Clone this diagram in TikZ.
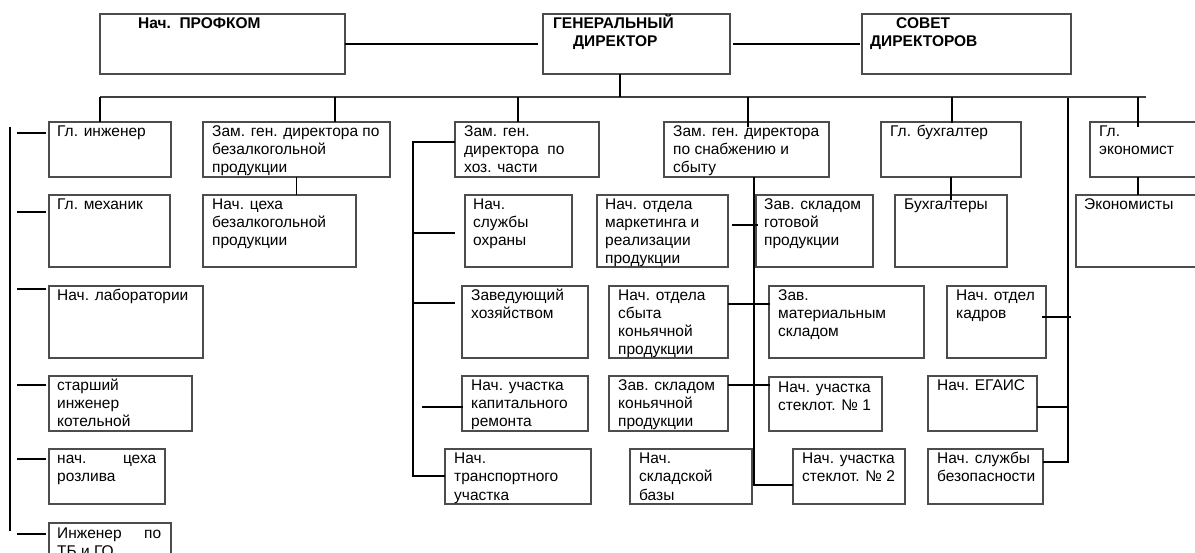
\documentclass[tikz,border=0pt]{standalone}
\usepackage{fontspec}
\setmainfont{Liberation Sans}
\usetikzlibrary{calc}
\newcommand\obox[7]{%
  \node[obx,minimum width=#4pt,minimum height=#5pt] (#1) at (#2,#3) {};
  \node[otx] (#1-t) at ([xshift=#6pt,yshift=-15pt]#1.north west) {\parbox[t]{260pt}{\raggedright #7}};}
\begin{document}
\begin{tikzpicture}[x=1pt,y=-1pt,
  obx/.style={draw=black!70,line width=1.1pt,anchor=north west,inner sep=0pt,outer sep=0pt},
  otx/.style={anchor=base west,inner sep=0pt,font=\fontsize{15.5}{18}\selectfont},
  conn/.style={line width=1.6pt,black},
  bus/.style={line width=1.4pt,black!75}]
\useasboundingbox (0,0) rectangle (1195,553);
\clip (0,0) rectangle (1195,553);
% top row
\obox{prof}{100}{14}{245}{60}{38}{\textbf{Нач.\ \ ПРОФКОМ}}
\obox{gd}{543}{14}{187}{60}{10}{\textbf{ГЕНЕРАЛЬНЫЙ}\\\hspace*{20pt}\textbf{ДИРЕКТОР}}
\obox{sd}{862}{14}{209}{60}{8}{\hspace*{26pt}\textbf{СОВЕТ}\\\textbf{ДИРЕКТОРОВ}}
% row 1
\obox{gi}{49}{122}{122}{55}{8}{Гл. инженер}
\obox{zbez}{203}{122}{187}{55}{9}{Зам. ген. директора по\\безалкогольной\\продукции}
\obox{zhoz}{455}{122}{144}{55}{9}{Зам. ген.\\директора\ \ по\\хоз. части}
\obox{zsn}{664}{122}{165}{55}{9}{Зам. ген. директора\\по снабжению и\\сбыту}
\obox{gb}{881}{122}{140}{55}{9}{Гл. бухгалтер}
\obox{ge}{1090}{122}{140}{55}{9}{Гл.\\экономист}
% row 2
\obox{gm}{49}{195}{121}{72}{8}{Гл. механик}
\obox{nceh}{203}{195}{153}{72}{9}{Нач. цеха\\безалкогольной\\продукции}
\obox{ohr}{465}{195}{107}{72}{8}{Нач.\\службы\\охраны}
\obox{mkt}{597}{195}{131}{72}{8}{Нач. отдела\\маркетинга и\\реализации\\продукции}
\obox{gotov}{756}{195}{117}{72}{8}{Зав. складом\\готовой\\продукции}
\obox{buh}{895}{195}{112}{72}{9}{Бухгалтеры}
\obox{econ}{1076}{195}{140}{72}{8}{Экономисты}
% row 3
\obox{lab}{49}{286}{154}{72}{8}{Нач. лаборатории}
\obox{hoz}{462}{286}{126}{72}{9}{Заведующий\\хозяйством}
\obox{sbyt}{609}{286}{119}{72}{9}{Нач. отдела\\сбыта\\коньячной\\продукции}
\obox{mat}{769}{286}{155}{72}{9}{Зав.\\материальным\\складом}
\obox{kadr}{947}{286}{99}{72}{9}{Нач. отдел\\кадров}
% row 4
\obox{kot}{49}{376}{143}{55}{8}{старший\\инженер\\котельной}
\obox{kap}{462}{376}{126}{55}{9}{Нач. участка\\капитального\\ремонта}
\obox{kon}{609}{376}{119}{55}{9}{Зав. складом\\коньячной\\продукции}
\obox{st1}{769}{377}{113}{54}{9}{Нач. участка\\стеклот. № 1}
\obox{egais}{928}{376}{109}{55}{9}{Нач. ЕГАИС}
% row 5
\obox{rozl}{49}{449}{116}{55}{8}{\makebox[99pt][s]{нач. цеха}\\розлива}
\obox{trans}{445}{449}{146}{55}{9}{Нач.\\транспортного\\участка}
\obox{baza}{630}{449}{122}{55}{9}{Нач.\\складской\\базы}
\obox{st2}{793}{449}{112}{55}{9}{Нач. участка\\стеклот. № 2}
\obox{bez}{928}{449}{115}{55}{9}{Нач. службы\\безопасности}
% row 6
\obox{tb}{49}{523}{122}{50}{8}{\makebox[104pt][s]{Инженер по}\\ТБ и ГО}
% top connectors
\draw[conn] (prof.east) -- ([xshift=-5pt]gd.west);
\draw[conn] ([xshift=3pt]gd.east) -- ([xshift=-2pt]sd.west);
\coordinate (busL) at (100,97);
\coordinate (busR) at (1146,97);
\coordinate (b0) at (620,97);
\coordinate (b1) at (335,97);
\coordinate (b2) at (518,97);
\coordinate (b3) at (748,97);
\coordinate (b5) at (952,97);
\coordinate (b6) at (1138,97);
\draw[bus] (busL) -- (busR);
\draw[conn] (b0 |- gd.south) -- (b0);
\draw[conn] (busL) -- (busL |- gi.north);
\draw[conn] (b1) -- (b1 |- zbez.north);
\draw[conn] (b2) -- (b2 |- zhoz.north);
\draw[conn] (b3) -- ($(b3 |- zsn.north)+(0,5)$);
\draw[conn] (b5) -- ($(b5 |- gb.north)+(0,1)$);
\draw[conn] (b6) -- ($(b6 |- ge.north)+(0,5)$);
% left column
\coordinate (lvT) at (10,127);
\coordinate (lvB) at (10,531);
\draw[conn] (lvT) -- (lvB);
\draw[conn] ($(gi.north west)+(-32,11)$) -- ++(29,0);
\draw[conn] ($(gm.north west)+(-32,17)$) -- ++(29,0);
\draw[conn] ($(lab.north west)+(-32,3)$) -- ++(29,0);
\draw[conn] ($(kot.north west)+(-32,9)$) -- ++(29,0);
\draw[conn] ($(rozl.north west)+(-32,10)$) -- ++(29,0);
\draw[conn] ($(tb.north west)+(-32,11)$) -- ++(29,0);
\draw[conn] (zbez.south) -- (zbez.south |- nceh.north);
% хоз. части
\coordinate (hT) at (413,142);
\coordinate (hB) at (413,476);
\draw[conn] (zhoz.west |- hT) -- (hT) -- (hB) -- (hB -| trans.west);
\draw[conn] ($(ohr.north west)+(-52,38)$) -- ++(42,0);
\draw[conn] ($(hoz.north west)+(-49,17)$) -- ++(42,0);
\draw[conn] ($(kap.north west)+(-40,31)$) -- ++(41,0);
% снабжение
\coordinate (sB) at (754,485);
\draw[conn] (zsn.south -| sB) -- (sB) -- (sB -| st2.west);
\draw[conn] ($(mkt.east)+(4,-6)$) -- ($(gotov.west)+(2,-6)$);
\draw[conn] ($(sbyt.east)+(0,-18)$) -- ($(mat.west)+(1,-18)$);
\draw[conn] ($(kon.east)+(0,-18.5)$) -- ($(st1.west)+(1,-19)$);
% бухгалтер / экономист
\draw[conn] (gb.south) -- ($(gb.south |- buh.north)+(0,5)$);
\draw[conn] (b6 |- ge.south) -- (b6 |- econ.north);
% right vertical
\coordinate (rT) at (1068,98);
\coordinate (rB) at (1068,462);
\draw[conn] (rT) -- (rB) -- (rB -| bez.east);
\draw[conn] ($(egais.east)+(0,3.5)$) -- ($(egais.east -| rT)+(0,3.5)$);
\draw[conn] ($(kadr.east)+(-4,-5)$) -- ++(29,0);
\end{tikzpicture}
\end{document}
